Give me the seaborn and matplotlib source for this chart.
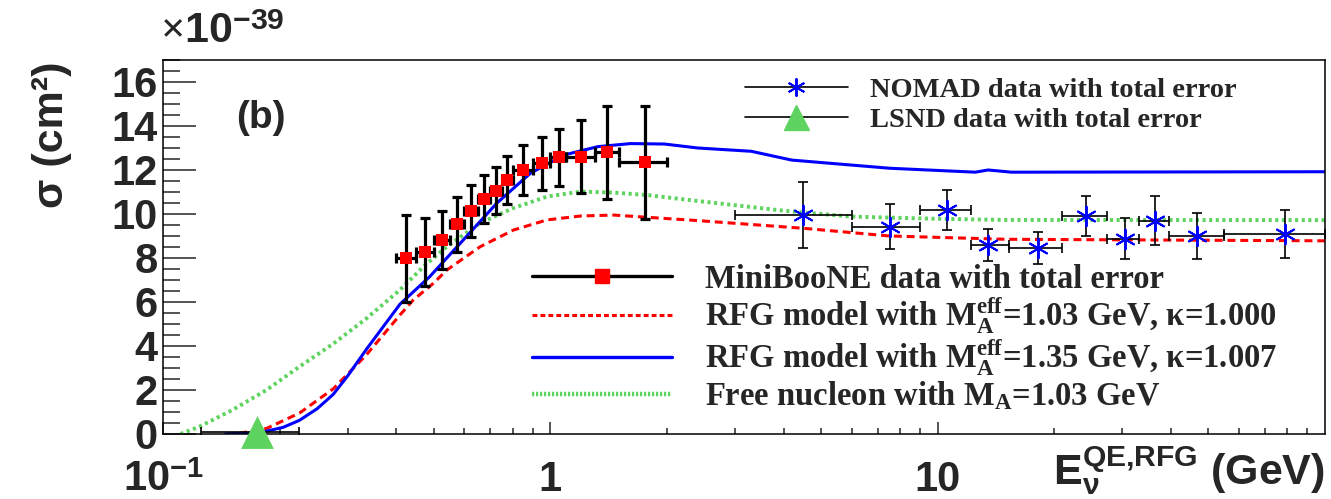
import numpy as np
import pandas as pd
import matplotlib
matplotlib.use("Agg")
import matplotlib.pyplot as plt
import seaborn as sns
from matplotlib.lines import Line2D
from matplotlib.ticker import FixedLocator, FixedFormatter, MultipleLocator, LogLocator, NullFormatter

# ---------------- data (cross sections in units of 1e-39 cm^2) ----------------
# MiniBooNE CCQE data, bin edges in GeV
mb_lo = [0.40, 0.45, 0.50, 0.55, 0.60, 0.65, 0.70, 0.75, 0.80, 0.90, 1.00, 1.10, 1.30, 1.50]
mb_hi = [0.45, 0.50, 0.55, 0.60, 0.65, 0.70, 0.75, 0.80, 0.90, 1.00, 1.10, 1.30, 1.50, 2.00]
mb_energy = [0.425, 0.475, 0.525, 0.575, 0.625, 0.675, 0.725, 0.775, 0.85, 0.95, 1.05, 1.20, 1.40, 1.75]
mb_sigma = [7.98, 8.26, 8.82, 9.53, 10.14, 10.68, 11.06, 11.55, 12.00, 12.30, 12.58, 12.61, 12.80, 12.35]
mb_err = [1.97, 1.54, 1.32, 1.25, 1.17, 1.11, 1.06, 1.10, 1.13, 1.20, 1.30, 1.67, 2.13, 2.58]

# NOMAD data
nomad_lo = [3.0, 6.0, 9.0, 12.2, 15.3, 20.9, 27.4, 33.1, 39.6, 54.7]
nomad_hi = [6.0, 9.0, 12.2, 15.3, 20.9, 27.4, 33.1, 39.6, 54.7, 100.0]
nomad_energy = [4.49, 7.55, 10.55, 13.48, 18.2, 24.2, 30.45, 36.4, 46.7, 78.6]
nomad_sigma = [9.95, 9.42, 10.18, 8.59, 8.44, 9.91, 8.88, 9.70, 9.00, 9.09]
nomad_err = [1.50, 1.03, 0.93, 0.73, 0.73, 0.91, 0.93, 1.12, 1.03, 1.10]

# LSND data
lsnd_lo = [0.125]
lsnd_hi = [0.225]
lsnd_energy = [0.1753]
lsnd_sigma = [0.10]
lsnd_err = [0.05]

# RFG model, M_A^eff = 1.03 GeV, kappa = 1.000
rfg103_energy = [0.157, 0.185, 0.225, 0.275, 0.335, 0.409, 0.4425, 0.499, 0.54, 0.6585, 0.803,
                 0.98, 1.2, 1.46, 1.78, 2.4, 4.5, 7.5, 15.0, 100.0]
rfg103_sigma = [0.03, 0.25, 0.95, 2.05, 3.60, 5.41, 6.09, 6.85, 7.45, 8.51, 9.27,
                9.73, 9.91, 9.95, 9.85, 9.70, 9.35, 9.00, 8.85, 8.78]

# RFG model, M_A^eff = 1.35 GeV, kappa = 1.007
rfg135_energy = [0.145, 0.177, 0.204, 0.225, 0.25, 0.275, 0.30, 0.335, 0.409, 0.488, 0.596, 0.727, 0.888,
                 1.084, 1.325, 1.61, 1.97, 2.4, 3.3, 4.2, 7.5, 12.5, 13.5, 15.5, 100.0]
rfg135_sigma = [0.0, 0.05, 0.30, 0.62, 1.15, 1.80, 2.65, 3.85, 5.90, 7.15, 8.82, 10.49, 11.85,
                12.68, 13.06, 13.20, 13.18, 13.00, 12.85, 12.45, 12.08, 11.90, 12.00, 11.90, 11.92]

# Free nucleon, M_A = 1.03 GeV
free_energy = [0.111, 0.124, 0.151, 0.185, 0.225, 0.275, 0.335, 0.409, 0.47, 0.54, 0.658, 0.80,
               0.98, 1.2, 1.46, 1.78, 2.4, 4.0, 6.0, 10.0, 15.0, 100.0]
free_sigma = [0.0, 0.33, 1.09, 2.00, 3.06, 4.10, 5.25, 6.55, 7.60, 8.51, 9.58, 10.26,
              10.79, 11.02, 10.97, 10.86, 10.59, 10.15, 9.88, 9.78, 9.73, 9.72]

x_ticks = [0.1, 1, 10]
x_ticklabels = [r"$\mathsf{10}^{\mathsf{-1}}$", "1", "10"]

# ---------------- style ----------------
sns.set_theme(style="ticks")
plt.rcParams.update({
    "font.family": ["Liberation Sans", "DejaVu Sans"],
    "font.weight": "bold",
    "mathtext.fontset": "custom",
    "mathtext.rm": "Liberation Serif:bold",
    "mathtext.it": "Liberation Serif:italic:bold",
    "mathtext.bf": "Liberation Serif:bold",
    "mathtext.sf": "Liberation Sans:bold",
    "axes.linewidth": 1.1,
    "axes.edgecolor": "black",
    "figure.facecolor": "white",
    "axes.facecolor": "white",
})

RED = "#ff0000"
BLUE = "#0000ff"
GREEN = "#5fd35f"

fig = plt.figure(figsize=(13.31, 4.99), dpi=100)
ax = fig.add_axes([0.1225, 0.1303, 0.873, 0.7495])

curves = pd.concat([
    pd.DataFrame({"energy": rfg103_energy, "sigma": rfg103_sigma, "model": "rfg103"}),
    pd.DataFrame({"energy": rfg135_energy, "sigma": rfg135_sigma, "model": "rfg135"}),
    pd.DataFrame({"energy": free_energy, "sigma": free_sigma, "model": "free"}),
], ignore_index=True)

green_style = (0, (0.8, 0.9))
red_style = (0, (2.6, 1.6))

sns.lineplot(data=curves[curves.model == "free"], x="energy", y="sigma", ax=ax,
             color=GREEN, lw=2.8, linestyle=green_style, sort=False, estimator=None, legend=False, zorder=2)
sns.lineplot(data=curves[curves.model == "rfg103"], x="energy", y="sigma", ax=ax,
             color=RED, lw=2.2, linestyle=red_style, sort=False, estimator=None, legend=False, zorder=2)
sns.lineplot(data=curves[curves.model == "rfg135"], x="energy", y="sigma", ax=ax,
             color=BLUE, lw=2.2, sort=False, estimator=None, legend=False, zorder=2)

# error bars
def asym(center, lo, hi):
    c = np.asarray(center)
    return [c - np.asarray(lo), np.asarray(hi) - c]

ax.errorbar(mb_energy, mb_sigma, xerr=asym(mb_energy, mb_lo, mb_hi), yerr=mb_err, fmt="none",
            ecolor="black", elinewidth=2.3, capsize=3.6, capthick=2.3, zorder=3)
ax.errorbar(nomad_energy, nomad_sigma, xerr=asym(nomad_energy, nomad_lo, nomad_hi), yerr=nomad_err,
            fmt="none", ecolor="black", elinewidth=1.2, capsize=3.4, capthick=1.2, zorder=3)
ax.errorbar(lsnd_energy, lsnd_sigma, xerr=asym(lsnd_energy, lsnd_lo, lsnd_hi), yerr=lsnd_err,
            fmt="none", ecolor="black", elinewidth=1.2, capsize=3.4, capthick=1.2, zorder=3)

# data markers
sns.scatterplot(x=mb_energy, y=mb_sigma, ax=ax, marker="s", s=75, color=RED, linewidth=0, zorder=4)
sns.scatterplot(x=nomad_energy, y=nomad_sigma, ax=ax, marker=(6, 2, 0), s=200, color=BLUE,
                linewidth=1.4, zorder=4)
sns.scatterplot(x=lsnd_energy, y=lsnd_sigma, ax=ax, marker="^", s=560, color=GREEN, linewidth=0,
                zorder=4, clip_on=False)

# ---------------- axes ----------------
ax.set_xscale("log")
ax.set_xlim(0.1, 100)
ax.set_ylim(0, 17)
ax.xaxis.set_major_locator(FixedLocator(x_ticks))
ax.xaxis.set_major_formatter(FixedFormatter(x_ticklabels))
ax.xaxis.set_minor_locator(LogLocator(base=10, subs=np.arange(2, 10)))
ax.xaxis.set_minor_formatter(NullFormatter())
ax.yaxis.set_major_locator(MultipleLocator(2))
ax.yaxis.set_minor_locator(MultipleLocator(0.5))
for s in ax.spines.values():
    s.set_visible(True)
    s.set_linewidth(1.1)

ax.tick_params(axis="y", which="major", direction="in", length=24, width=1.1, labelsize=30, pad=4,
               left=True, right=False)
ax.tick_params(axis="y", which="minor", direction="in", length=12, width=1.1, left=True, right=False)
ax.tick_params(axis="x", which="major", direction="in", length=8.6, width=1.1, labelsize=30, pad=19,
               bottom=True, top=False)
ax.tick_params(axis="x", which="minor", direction="in", length=4.3, width=1.1, bottom=True, top=False)

ax.set_xlabel(r"$\mathsf{E}_{\mathsf{\nu}}^{\mathsf{QE{,}RFG}}$ (GeV)", fontsize=31, fontweight="bold",
              ha="right", va="center")
ax.xaxis.set_label_coords(1.0, -0.10)
ax.set_ylabel("σ (cm²)", fontsize=31, fontweight="bold", ha="center", va="center")
ax.yaxis.set_label_coords(-0.0955, 0.80)

ax.text(-0.003, 1.02, r"$\times\mathsf{10}^{\mathsf{-39}}$", transform=ax.transAxes, fontsize=31,
        ha="left", va="bottom")
ax.text(0.0843, 0.845, "(b)", transform=ax.transAxes, fontsize=28, fontweight="bold",
        ha="center", va="center")

# ---------------- legends ----------------
serif_big = {"family": "Liberation Serif", "weight": "bold", "size": 23.5}
serif_small = {"family": "Liberation Serif", "weight": "bold", "size": 20.5}

h_mb = Line2D([], [], color="black", lw=2.4, marker="s", ms=9.5, mfc=RED, mec=RED)
h_103 = Line2D([], [], color=RED, lw=2.2, linestyle=(0, (1.6, 1.0)))
h_135 = Line2D([], [], color=BLUE, lw=2.4)
h_free = Line2D([], [], color=GREEN, lw=3.2, linestyle=(0, (0.5, 0.4)))
leg2 = ax.legend(
    [h_mb, h_103, h_135, h_free],
    ["MiniBooNE data with total error",
     r"RFG model with $\mathrm{M}_{\mathrm{A}}^{\mathrm{eff}}$=1.03 GeV, κ=1.000",
     r"RFG model with $\mathrm{M}_{\mathrm{A}}^{\mathrm{eff}}$=1.35 GeV, κ=1.007",
     r"Free nucleon with $\mathrm{M}_{\mathrm{A}}$=1.03 GeV"],
    loc="upper left", bbox_to_anchor=(0.3176, 0.455), frameon=False, prop=serif_big,
    handlelength=4.3, handletextpad=1.0, labelspacing=0.04, borderpad=0, borderaxespad=0,
)
ax.add_artist(leg2)

h_nomad = Line2D([], [], color="black", lw=1.2, marker=(6, 2, 0), ms=13, mec=BLUE, mew=1.4)
h_lsnd = Line2D([], [], color="black", lw=1.2, marker="^", ms=18, mfc=GREEN, mec=GREEN)
leg1 = ax.legend(
    [h_nomad, h_lsnd],
    ["NOMAD data with total error", "LSND data with total error"],
    loc="upper left", bbox_to_anchor=(0.5009, 0.955), frameon=False, prop=serif_small,
    handlelength=3.6, handletextpad=0.8, labelspacing=0.15, borderpad=0, borderaxespad=0,
)

fig.savefig("out.png", dpi=100)
